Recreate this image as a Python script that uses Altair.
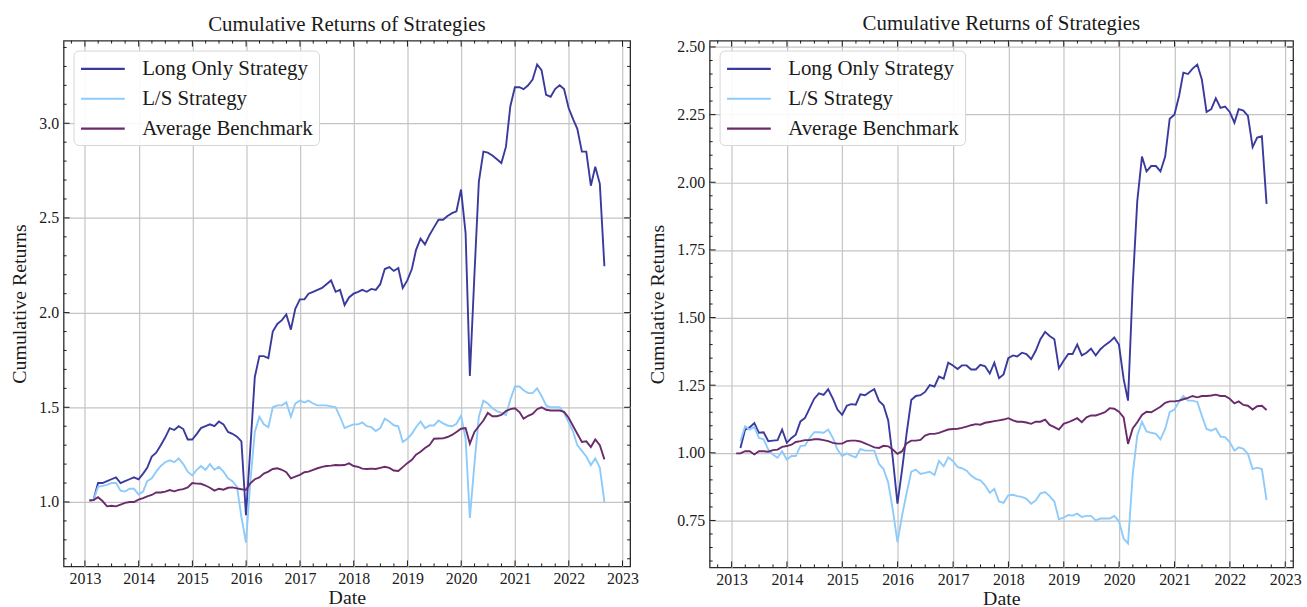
import calendar

import altair as alt
import pandas as pd

# ---------------------------------------------------------------------------
# Monthly cumulative returns, month-end dates from Jan 2013 to Aug 2022
# ---------------------------------------------------------------------------
months = []
_y, _m = 2013, 1
for _ in range(116):
    months.append(f"{_y}-{_m:02d}-{calendar.monthrange(_y, _m)[1]:02d}")
    _m += 1
    if _m > 12:
        _m, _y = 1, _y + 1

SERIES = ["Long Only Strategy", "L/S Strategy", "Average Benchmark"]
COLORS = ["#3a3a9e", "#8ecbfb", "#6a2a6c"]

# Left panel
left_long = [
    1.01, 1.01, 1.10, 1.10, 1.11, 1.12, 1.13, 1.10, 1.11, 1.12, 1.13, 1.12,
    1.15, 1.18, 1.24, 1.26, 1.30, 1.34, 1.39, 1.38, 1.40, 1.385, 1.33, 1.33,
    1.36, 1.39, 1.40, 1.41, 1.40, 1.425, 1.41, 1.37, 1.36, 1.345, 1.32, 0.93,
    1.30, 1.66, 1.77, 1.77, 1.76, 1.90, 1.94, 1.96, 1.99, 1.91, 2.02, 2.07,
    2.07, 2.10, 2.11, 2.12, 2.13, 2.15, 2.17, 2.11, 2.12, 2.04, 2.08, 2.10,
    2.11, 2.12, 2.11, 2.125, 2.12, 2.15, 2.23, 2.24, 2.22, 2.235, 2.13, 2.17,
    2.23, 2.33, 2.39, 2.36, 2.41, 2.45, 2.49, 2.49, 2.51, 2.525, 2.535, 2.65,
    2.42, 1.665, 2.20, 2.69, 2.85, 2.845, 2.83, 2.81, 2.79, 2.875, 3.09, 3.19,
    3.19, 3.18, 3.20, 3.23, 3.31, 3.28, 3.15, 3.14, 3.18, 3.20, 3.18, 3.08,
    3.02, 2.97, 2.85, 2.85, 2.67, 2.77, 2.68, 2.245,
]
left_ls = [
    1.007, 1.01, 1.08, 1.085, 1.09, 1.10, 1.10, 1.06, 1.055, 1.07, 1.07, 1.04,
    1.055, 1.11, 1.125, 1.16, 1.19, 1.21, 1.22, 1.21, 1.23, 1.20, 1.16, 1.14,
    1.17, 1.19, 1.17, 1.20, 1.17, 1.186, 1.16, 1.125, 1.11, 1.08, 0.92, 0.786,
    1.12, 1.37, 1.45, 1.41, 1.395, 1.50, 1.51, 1.51, 1.526, 1.45, 1.52, 1.535,
    1.526, 1.535, 1.52, 1.51, 1.51, 1.51, 1.505, 1.50, 1.45, 1.39, 1.40, 1.41,
    1.41, 1.42, 1.40, 1.395, 1.375, 1.39, 1.44, 1.425, 1.405, 1.40, 1.317, 1.334,
    1.36, 1.395, 1.425, 1.39, 1.404, 1.404, 1.43, 1.415, 1.404, 1.40, 1.413, 1.456,
    1.334, 0.916, 1.20, 1.45, 1.535, 1.52, 1.495, 1.48, 1.47, 1.46, 1.54, 1.61,
    1.61, 1.59, 1.575, 1.575, 1.60, 1.56, 1.51, 1.50, 1.50, 1.50, 1.47, 1.42,
    1.37, 1.30, 1.27, 1.24, 1.195, 1.23, 1.18, 1.00,
]
left_bench = [
    1.007, 1.01, 1.025, 1.005, 0.977, 0.98, 0.977, 0.986, 0.995, 1.00, 1.00, 1.012,
    1.02, 1.03, 1.037, 1.05, 1.05, 1.055, 1.063, 1.056, 1.064, 1.068, 1.077, 1.10,
    1.097, 1.096, 1.087, 1.075, 1.06, 1.07, 1.065, 1.075, 1.077, 1.072, 1.067, 1.064,
    1.10, 1.12, 1.13, 1.15, 1.16, 1.174, 1.178, 1.17, 1.157, 1.125, 1.134, 1.143,
    1.157, 1.16, 1.17, 1.178, 1.185, 1.19, 1.192, 1.195, 1.194, 1.195, 1.204, 1.19,
    1.185, 1.176, 1.174, 1.176, 1.174, 1.18, 1.186, 1.18, 1.166, 1.164, 1.184, 1.205,
    1.223, 1.25, 1.265, 1.285, 1.30, 1.334, 1.335, 1.336, 1.343, 1.354, 1.37, 1.387,
    1.39, 1.308, 1.37, 1.40, 1.43, 1.47, 1.453, 1.453, 1.46, 1.48, 1.49, 1.495,
    1.475, 1.44, 1.455, 1.465, 1.49, 1.50, 1.487, 1.483, 1.483, 1.483, 1.476, 1.445,
    1.40, 1.36, 1.317, 1.32, 1.29, 1.33, 1.30, 1.225,
]

# Right panel (the two strategies start one month after the benchmark)
right_long = [
    None, 1.018, 1.086, 1.094, 1.11, 1.074, 1.076, 1.043, 1.045, 1.047, 1.086, 1.037,
    1.055, 1.067, 1.116, 1.129, 1.165, 1.20, 1.22, 1.214, 1.235, 1.20, 1.16, 1.14,
    1.174, 1.18, 1.178, 1.216, 1.213, 1.225, 1.235, 1.192, 1.176, 1.12, 0.98, 0.812,
    0.94, 1.07, 1.195, 1.21, 1.213, 1.225, 1.25, 1.245, 1.282, 1.274, 1.333, 1.323,
    1.31, 1.323, 1.323, 1.308, 1.308, 1.325, 1.32, 1.293, 1.333, 1.276, 1.29, 1.35,
    1.36, 1.356, 1.37, 1.365, 1.346, 1.377, 1.42, 1.447, 1.432, 1.42, 1.312, 1.34,
    1.365, 1.365, 1.40, 1.36, 1.37, 1.385, 1.36, 1.383, 1.398, 1.41, 1.426, 1.40,
    1.273, 1.193, 1.62, 1.93, 2.095, 2.04, 2.06, 2.06, 2.04, 2.095, 2.235, 2.25,
    2.32, 2.405, 2.40, 2.42, 2.435, 2.38, 2.26, 2.27, 2.31, 2.275, 2.28, 2.26,
    2.22, 2.27, 2.265, 2.245, 2.13, 2.165, 2.17, 1.92,
]
right_ls = [
    None, 1.043, 1.098, 1.086, 1.096, 1.055, 1.05, 1.012, 0.994, 0.982, 1.006, 0.975,
    0.988, 0.988, 1.025, 1.027, 1.055, 1.076, 1.076, 1.074, 1.086, 1.055, 1.012, 0.988,
    0.998, 0.99, 0.983, 1.014, 1.008, 1.008, 1.008, 0.959, 0.94, 0.89, 0.79, 0.67,
    0.77, 0.85, 0.93, 0.938, 0.922, 0.926, 0.93, 0.918, 0.97, 0.95, 0.983, 0.97,
    0.947, 0.943, 0.934, 0.916, 0.904, 0.898, 0.88, 0.852, 0.867, 0.82, 0.815, 0.843,
    0.845, 0.84, 0.837, 0.83, 0.812, 0.824, 0.85, 0.855, 0.84, 0.82, 0.754, 0.76,
    0.77, 0.768, 0.775, 0.763, 0.767, 0.767, 0.75, 0.757, 0.757, 0.757, 0.767, 0.747,
    0.683, 0.665, 0.92, 1.064, 1.115, 1.079, 1.074, 1.07, 1.05, 1.088, 1.15, 1.16,
    1.19, 1.21, 1.193, 1.193, 1.188, 1.137, 1.088, 1.082, 1.09, 1.06, 1.058, 1.04,
    1.008, 1.02, 1.015, 0.996, 0.94, 0.945, 0.94, 0.825,
]
right_bench = [
    0.998, 0.998, 1.006, 1.006, 0.994, 1.006, 1.006, 1.004, 1.01, 1.012, 1.022, 1.025,
    1.03, 1.04, 1.043, 1.047, 1.047, 1.05, 1.05, 1.047, 1.043, 1.037, 1.034, 1.034,
    1.043, 1.045, 1.045, 1.042, 1.035, 1.028, 1.02, 1.018, 1.026, 1.024, 1.012, 0.996,
    1.006, 1.035, 1.045, 1.045, 1.048, 1.064, 1.07, 1.07, 1.074, 1.08, 1.086, 1.088,
    1.089, 1.092, 1.097, 1.102, 1.106, 1.104, 1.111, 1.114, 1.117, 1.12, 1.123, 1.128,
    1.12, 1.115, 1.115, 1.112, 1.107, 1.115, 1.115, 1.123, 1.103, 1.095, 1.086, 1.107,
    1.113, 1.12, 1.128, 1.113, 1.131, 1.138, 1.138, 1.144, 1.15, 1.165, 1.163, 1.152,
    1.131, 1.033, 1.09, 1.113, 1.14, 1.152, 1.15, 1.16, 1.17, 1.185, 1.19, 1.19,
    1.193, 1.198, 1.203, 1.21, 1.205, 1.21, 1.21, 1.212, 1.215, 1.21, 1.21, 1.20,
    1.183, 1.19, 1.177, 1.174, 1.16, 1.172, 1.174, 1.158,
]

# Axis ticks
year_ticks = list(range(2013, 2024))
left_y_major = [1.0, 1.5, 2.0, 2.5, 3.0]
right_y_major = [0.75, 1.00, 1.25, 1.50, 1.75, 2.00, 2.25, 2.50]

FONT = "Liberation Serif"
INK = "#1a1a1a"

# Legend key: a short horizontal stroke drawn past the nominal symbol box,
# so the key is long while the legend rows stay compact.
KEY_SIZE = 22
LEGEND_KEY = "M-1,0L3,0"


def to_dt(ts):
    return alt.DateTime(year=ts.year, month=ts.month, date=ts.day, hours=ts.hour)


def panel(long_v, ls_v, bench_v, y_major, minor_step, y_fmt, width, height):
    rows = []
    for name, vals in zip(SERIES, (long_v, ls_v, bench_v)):
        for d, v in zip(months, vals):
            if v is not None:
                rows.append({"date": d, "value": v, "series": name})
    df = pd.DataFrame(rows)

    # 5% margins around the data, both axes
    lo, hi = df["value"].min(), df["value"].max()
    ypad = 0.05 * (hi - lo)
    ydom = [lo - ypad, hi + ypad]
    t0, t1 = pd.Timestamp(months[0]), pd.Timestamp(months[-1])
    tpad = (t1 - t0) * 0.05
    xlo, xhi = t0 - tpad, t1 + tpad

    xscale = alt.Scale(domain=[to_dt(xlo), to_dt(xhi)], nice=False)
    yscale = alt.Scale(domain=ydom, nice=False, zero=False)

    xaxis = alt.Axis(
        values=[alt.DateTime(year=y, month=1, date=1) for y in year_ticks],
        format="%Y", grid=True, ticks=False, domain=False,
        labelFontSize=16, labelPadding=4, labelFlush=False, labelOverlap=False,
        titleFontSize=20, titlePadding=1, title="Date",
    )
    yaxis = alt.Axis(
        values=y_major, format=y_fmt, grid=True, ticks=False, domain=False,
        labelFontSize=16, labelPadding=5, labelFlush=False,
        titleFontSize=20, titlePadding=9, title="Cumulative Returns",
    )
    X = alt.X("date:T", scale=xscale, axis=xaxis, title="Date")
    Y = alt.Y("value:Q", scale=yscale, axis=yaxis, title="Cumulative Returns")

    color = alt.Color(
        "series:N",
        scale=alt.Scale(domain=SERIES, range=COLORS),
        legend=alt.Legend(title=None),
        sort=SERIES,
    )

    layers = []
    for name in SERIES:
        layers.append(
            alt.Chart(df)
            .transform_filter(alt.datum.series == name)
            .mark_line(strokeWidth=1.9)
            .encode(x=X, y=Y, color=color)
        )

    # inward ticks on all four sides of the frame
    major_x = pd.DataFrame({"date": [f"{y}-01-01" for y in year_ticks]})
    minor_dates = [
        f"{y}-{mm:02d}-01" for y in range(2012, 2024) for mm in (4, 7, 10)
    ]
    minor_dates = [d for d in minor_dates if xlo <= pd.Timestamp(d) <= xhi]
    minor_x = pd.DataFrame({"date": minor_dates})

    ymin_tick = round(ydom[0] / minor_step + 0.5) * minor_step
    minor_y_vals = []
    v = ymin_tick
    while v <= ydom[1]:
        if all(abs(v - mj) > 1e-6 for mj in y_major):
            minor_y_vals.append(round(v, 4))
        v += minor_step
    major_y = pd.DataFrame({"value": y_major})
    minor_y = pd.DataFrame({"value": minor_y_vals})

    tick_style = dict(color=INK, strokeWidth=1)
    for tdf, ln in ((major_x, 6), (minor_x, 3)):
        layers.append(
            alt.Chart(tdf).mark_rule(**tick_style)
            .encode(x=X, y=alt.value(0), y2=alt.value(ln))
        )
        layers.append(
            alt.Chart(tdf).mark_rule(**tick_style)
            .encode(x=X, y=alt.value(height), y2=alt.value(height - ln))
        )
    for tdf, ln in ((major_y, 6), (minor_y, 3)):
        layers.append(
            alt.Chart(tdf).mark_rule(**tick_style)
            .encode(y=Y, x=alt.value(0), x2=alt.value(ln))
        )
        layers.append(
            alt.Chart(tdf).mark_rule(**tick_style)
            .encode(y=Y, x=alt.value(width), x2=alt.value(width - ln))
        )

    return alt.layer(*layers).properties(
        width=width,
        height=height,
        title=alt.Title("Cumulative Returns of Strategies"),
    )


left = panel(left_long, left_ls, left_bench, left_y_major, 0.1, ".1f", 570, 529)
right = panel(right_long, right_ls, right_bench, right_y_major, 0.05, ".2f", 587, 530)

chart = (
    alt.hconcat(left, right, spacing=80, bounds="flush")
    .resolve_scale(color="independent")
    .resolve_legend(color="independent")
    .configure(padding={"left": 9, "top": 10, "right": 5, "bottom": 0}, font=FONT)
    .configure_view(stroke="#2b2b2b", strokeWidth=1.3)
    .configure_axis(
        labelFont=FONT, titleFont=FONT, labelColor=INK, titleColor=INK,
        titleFontWeight="normal", gridColor="#c4c4c4", gridWidth=1.2, gridOpacity=1,
    )
    .configure_title(font=FONT, fontSize=21, fontWeight="normal", color=INK, offset=5)
    .configure_legend(
        orient="top-left", offset=10, padding=6,
        fillColor="rgba(255,255,255,0.9)", strokeColor="#d6d6d6", cornerRadius=5,
        labelFont=FONT, labelFontSize=21, labelColor=INK, labelLimit=0,
        labelOffset=KEY_SIZE + 16,
        symbolType=LEGEND_KEY, symbolStrokeWidth=2.2, symbolSize=KEY_SIZE * KEY_SIZE,
        rowPadding=7,
    )
)

chart.save("out.html", embed_options={"renderer": "svg", "actions": False})
